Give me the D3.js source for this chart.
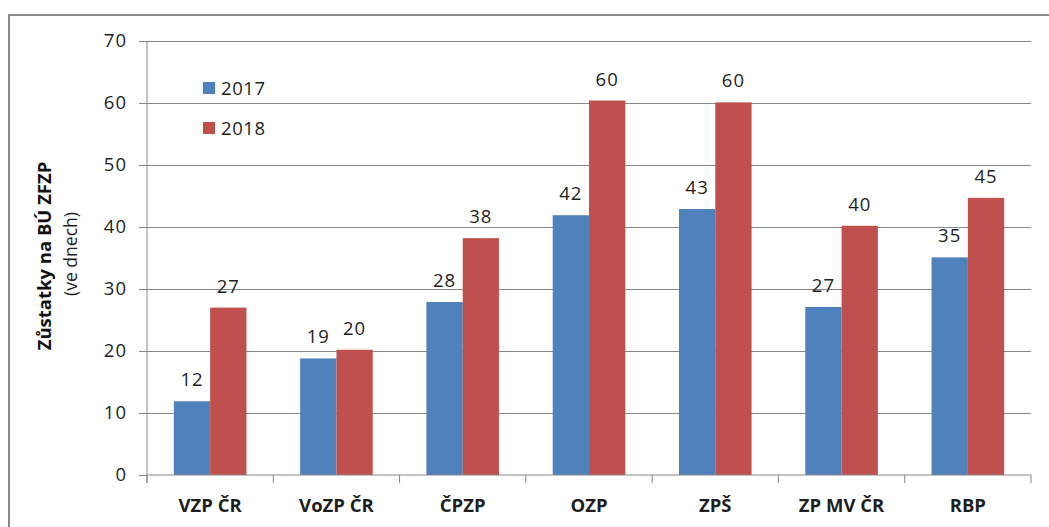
<!DOCTYPE html>
<html><head><meta charset="utf-8">
<script src="https://cdn.jsdelivr.net/npm/d3@7"></script>
<style>
html,body{margin:0;padding:0;background:#fff;}
svg{display:block;font-family:"Open Sans",sans-serif;}
</style></head>
<body>
<svg id="chart" width="1049" height="527"></svg>
<script>
const categories = ["VZP ČR","VoZP ČR","ČPZP","OZP","ZPŠ","ZP MV ČR","RBP"];
const seriesNames = ["2017","2018"];
const values2017 = [11.9, 18.8, 27.9, 41.9, 42.9, 27.1, 35.1];
const values2018 = [27.0, 20.2, 38.2, 60.4, 60.1, 40.2, 44.7];
const yTicks = [0,10,20,30,40,50,60,70];
const colors = ["#4F81BD","#C0504D"];

const svg = d3.select("#chart");
const pL = 147, pR = 1031, pT = 41, pB = 475;
const numFont = 18.5, numSpacing = "1px", txt = "#1e1e1e";

// outer frame
svg.append("rect").attr("x",9).attr("y",15).attr("width",1100).attr("height",600)
  .attr("fill","none").attr("stroke","#8a8a8a").attr("stroke-width",2);

const y = d3.scaleLinear().domain([0,70]).range([pB, pT]);
const x0 = d3.scaleBand().domain(categories).range([pL, pR]).padding(0);
const x1 = d3.scaleBand().domain(seriesNames).range([0, x0.bandwidth()]).paddingInner(0).paddingOuter(0.74);

// gridlines
svg.append("g").attr("transform",`translate(${pL},0)`)
  .call(d3.axisLeft(y).tickValues(yTicks.filter(d=>d>0)).tickSize(-(pR-pL)).tickFormat(""))
  .call(g=>g.select(".domain").remove())
  .call(g=>g.selectAll("line").attr("stroke","#868686").attr("stroke-width",1));

// y axis
svg.append("g").attr("transform",`translate(${pL},0)`)
  .call(d3.axisLeft(y).tickValues(yTicks).tickSize(8).tickPadding(12).tickSizeOuter(0))
  .call(g=>g.select(".domain").attr("stroke","#868686").attr("d",`M0,${pT}V${pB+8}`))
  .call(g=>g.selectAll(".tick line").attr("stroke","#868686"))
  .call(g=>g.selectAll("text").attr("font-family","Open Sans").attr("font-size",numFont)
    .attr("letter-spacing",numSpacing).attr("fill",txt));

// bars
const data = categories.map((c,i)=>({cat:c, vals:[values2017[i], values2018[i]]}));
const groups = svg.append("g").selectAll("g").data(data).join("g")
  .attr("transform",d=>`translate(${x0(d.cat)},0)`);
groups.selectAll("rect").data(d=>d.vals.map((v,j)=>({s:seriesNames[j], v, j})))
  .join("rect")
  .attr("x",d=>x1(d.s)).attr("width",x1.bandwidth())
  .attr("y",d=>y(d.v)).attr("height",d=>pB-y(d.v))
  .attr("fill",d=>colors[d.j]);
groups.selectAll("text").data(d=>d.vals.map((v,j)=>({s:seriesNames[j], v, j})))
  .join("text")
  .attr("x",d=>x1(d.s)+x1.bandwidth()/2).attr("y",d=>y(d.v)-15)
  .attr("text-anchor","middle").attr("font-size",numFont).attr("letter-spacing",numSpacing).attr("fill",txt)
  .text(d=>d3.format(".0f")(d.v));

// x axis
const boundaries = categories.map(c=>x0(c)).concat([pR]);
const xa = svg.append("g");
xa.append("line").attr("x1",pL).attr("x2",pR).attr("y1",pB).attr("y2",pB).attr("stroke","#868686");
xa.selectAll("line.tk").data(boundaries).join("line").attr("class","tk")
  .attr("x1",d=>d).attr("x2",d=>d).attr("y1",pB).attr("y2",pB+8).attr("stroke","#868686");
xa.selectAll("text").data(categories).join("text")
  .attr("x",d=>x0(d)+x0.bandwidth()/2).attr("y",512)
  .attr("text-anchor","middle").attr("font-size",18.5).attr("font-weight","bold").attr("fill",txt)
  .text(d=>d);

// y title
svg.append("text").attr("transform","translate(51,256) rotate(-90)")
  .attr("text-anchor","middle").attr("font-size",18.5).attr("font-weight","bold").attr("fill","#111")
  .text("Zůstatky na BÚ ZFZP");
svg.append("text").attr("transform","translate(77,254) rotate(-90)")
  .attr("text-anchor","middle").attr("font-size",17.5).attr("fill",txt)
  .text("(ve dnech)");

// legend
const lg = svg.append("g").selectAll("g").data(seriesNames).join("g")
  .attr("transform",(d,i)=>`translate(203,${82+i*40})`);
lg.append("rect").attr("width",12).attr("height",12).attr("fill",(d,i)=>colors[i]);
lg.append("text").attr("x",18).attr("y",12.5).attr("font-size",numFont).attr("letter-spacing","0.6px").attr("fill",txt).text(d=>d);
</script>
</body></html>
